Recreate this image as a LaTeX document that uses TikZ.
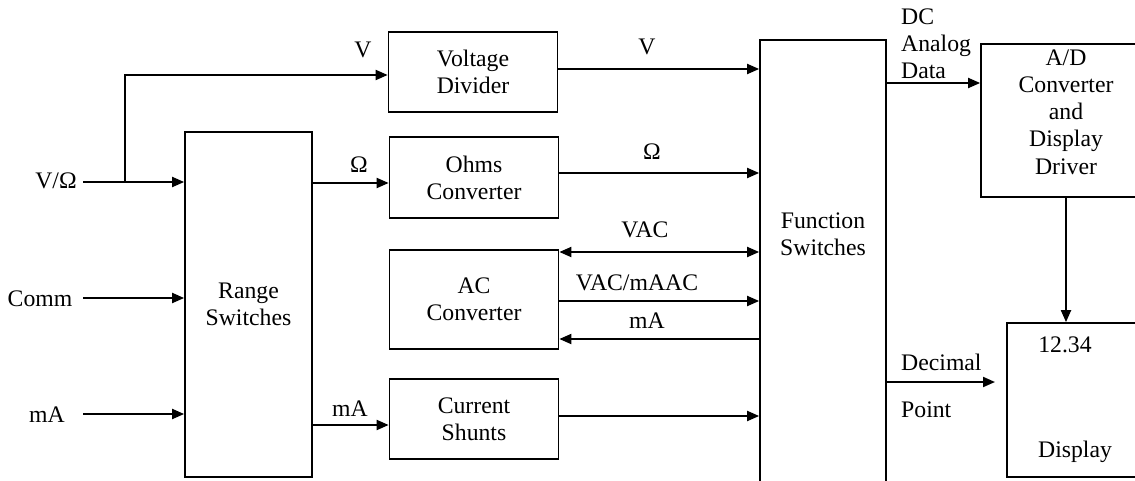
\documentclass[tikz,border=0pt]{standalone}
\usepackage{fontspec}
\setmainfont{Liberation Serif}
\usetikzlibrary{arrows.meta}

\begin{document}
\begin{tikzpicture}[x=0.02cm, y=-0.02cm,
  blk/.style={draw, line width=1pt, minimum width=3.38cm, align=center,
    font=\fontsize{13.5}{15.5}\selectfont},
  txt/.style={align=center, font=\fontsize{13.5}{15.5}\selectfont},
  >={Triangle[length=2.4mm,width=2mm]},
  arr/.style={line width=1.1pt, ->}]
\useasboundingbox (0,0) rectangle (1135,480);
\clip (0,0) rectangle (1135,480);
\node[blk, minimum width=2.54cm, minimum height=6.9cm] (rng) at (248.5,304.5) {Range\\Switches};
\node[blk, minimum height=1.6cm] (vd) at (473,72) {Voltage\\Divider};
\node[blk, minimum height=1.62cm] (oc) at (474,177.5) {Ohms\\Converter};
\node[blk, minimum height=1.98cm] (ac) at (474,299.5) {AC\\Converter};
\node[blk, minimum height=1.6cm] (cs) at (474,419) {Current\\Shunts};
\node[blk, minimum width=2.52cm, minimum height=9.2cm] (fs) at (823,270) {};
\node[txt] (fstxt) at (823,234) {Function\\Switches};
\node[blk, minimum width=3.4cm, minimum height=3.06cm] (ad) at (1066,120.5) {};
\node[txt] (adtxt) at (1066,112) {A/D\\Converter\\and\\Display\\Driver};
\node[blk, minimum width=3.4cm, minimum height=3.08cm] (dsp) at (1092,400) {};
\node[txt] (digits) at (1065,345) {12.34};
\node[txt] (dsptxt) at (1075,452) {Display};
\node[txt] (vo) at (56,181) {V/Ω};
\node[txt] (cm) at (40,299) {Comm};
\node[txt] (ma) at (47,415) {mA};
\coordinate (vin) at (83,182);
\coordinate (cin) at (83,298);
\coordinate (min) at (83,414);
\coordinate (br) at (125,182);
\coordinate (dp) at (995,382);
\draw[arr] (vin) -- (vin -| rng.west);
\draw[arr] (br) |- (vd.west |- 0,75);
\draw[arr] (cin) -- (cin -| rng.west);
\draw[arr] (min) -- (min -| rng.west);
\draw[arr] (rng.east |- 0,183) -- (oc.west |- 0,183);
\draw[arr] (rng.east |- 0,425) -- (cs.west |- 0,425);
\draw[arr] (vd.east |- 0,69) -- (fs.west |- 0,69);
\draw[arr] (oc.east |- 0,173) -- (fs.west |- 0,173);
\draw[arr, <->] (ac.east |- 0,252) -- (fs.west |- 0,252);
\draw[arr] (ac.east |- 0,301) -- (fs.west |- 0,301);
\draw[arr] (fs.west |- 0,339) -- (ac.east |- 0,339);
\draw[arr] (cs.east |- 0,416) -- (fs.west |- 0,416);
\draw[arr] (fs.east |- 0,83) -- (ad.west |- 0,83);
\draw[arr] (ad.south) -- (ad.south |- dsp.north);
\draw[arr] (fs.east |- dp) -- (dp);
\node[txt] at (363,50) {V};
\node[txt] at (359,165) {Ω};
\node[txt] at (350,409) {mA};
\node[txt] at (647,47) {V};
\node[txt] at (652,152) {Ω};
\node[txt] at (645,230) {VAC};
\node[txt] at (637,283) {VAC/mAAC};
\node[txt] at (647,321) {mA};
\node[txt, align=left, anchor=west] at (895,44) {DC\\Analog\\Data};
\node[txt, anchor=west] at (895,362) {Decimal};
\node[txt, anchor=west] at (895,410) {Point};
\end{tikzpicture}
\end{document}
